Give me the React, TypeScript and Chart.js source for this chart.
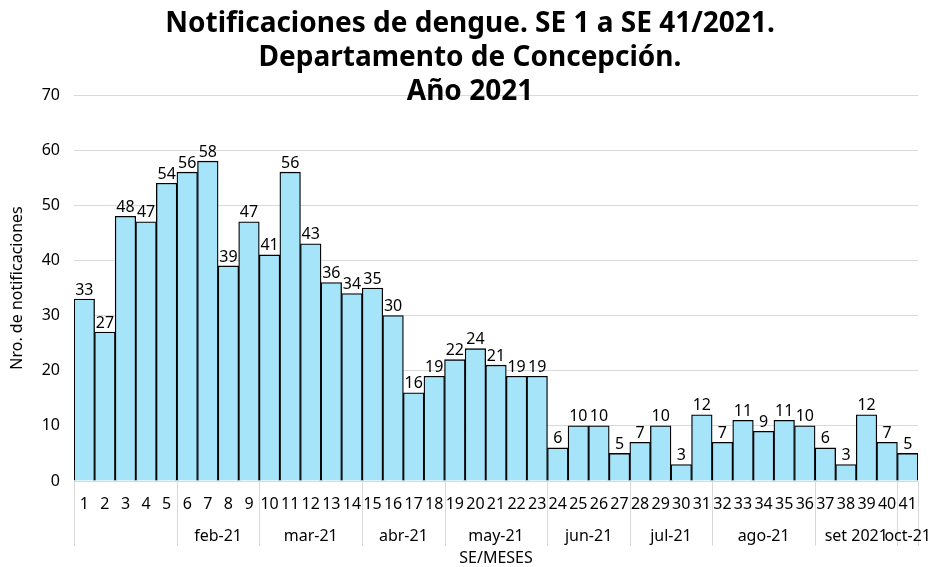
import React, { useEffect, useRef } from "react";
import { Chart, registerables } from "chart.js";

Chart.register(...registerables);

const weeks: string[] = Array.from({ length: 41 }, (_, i) => String(i + 1));
const values: number[] = [33, 27, 48, 47, 54, 56, 58, 39, 47, 41, 56, 43, 36, 34, 35, 30, 16, 19, 22, 24, 21, 19, 19, 6, 10, 10, 5, 7, 10, 3, 12, 7, 11, 9, 11, 10, 6, 3, 12, 7, 5];
const monthLabels: string[] = ["", "feb-21", "mar-21", "abr-21", "may-21", "jun-21", "jul-21", "ago-21", "set 2021", "oct-21"];
const monthStartWeek: number[] = [1, 6, 10, 15, 19, 24, 28, 32, 37, 41];
const titleLines: string[] = ["Notificaciones de dengue. SE 1 a SE 41/2021.", "Departamento de Concepción.", "Año 2021"];
const yTitle = "Nro. de notificaciones";
const xTitle = "SE/MESES";

const FONT = "'Noto Sans', 'Open Sans', sans-serif";
const FS = 16;

export default function App() {
  const ref = useRef<HTMLCanvasElement | null>(null);
  useEffect(() => {
    document.body.style.margin = "0";
    const canvas = ref.current;
    if (!canvas) return;

    const overlay = {
      id: "overlay",
      afterDatasetsDraw(chart: any) {
        const ctx = chart.ctx;
        const meta = chart.getDatasetMeta(0);
        ctx.save();
        ctx.fillStyle = "#000";
        ctx.font = `${FS}px ${FONT}`;
        ctx.textAlign = "center";
        ctx.textBaseline = "bottom";
        meta.data.forEach((el: any, i: number) => {
          ctx.fillText(String(values[i]), el.x, el.y - 1);
        });
        ctx.restore();
      },
      afterDraw(chart: any) {
        const ctx = chart.ctx;
        const xs = chart.scales.x;
        const area = chart.chartArea;
        const step = (area.right - area.left) / weeks.length;
        ctx.save();
        // title
        ctx.fillStyle = "#000";
        ctx.font = `bold 28px ${FONT}`;
        ctx.textAlign = "center";
        ctx.textBaseline = "alphabetic";
        const tcx = 470;
        titleLines.forEach((t, i) => ctx.fillText(t, tcx, 32 + i * 34));
        // week labels
        ctx.textBaseline = "middle";
        ctx.font = `${FS}px ${FONT}`;
        ctx.fillStyle = "#000";
        weeks.forEach((w, i) => {
          ctx.fillText(w, xs.getPixelForValue(i), 504);
        });
        // separators and month labels
        ctx.strokeStyle = "#d9d9d9";
        ctx.lineWidth = 1;
        const boundaries: number[] = monthStartWeek.map((w) => xs.getPixelForValue(w - 1) - step / 2);
        boundaries.push(xs.getPixelForValue(weeks.length - 1) + step / 2);
        boundaries.forEach((bx) => {
          const px = Math.round(bx) + 0.5;
          ctx.beginPath();
          ctx.moveTo(px, area.bottom);
          ctx.lineTo(px, 546);
          ctx.stroke();
        });
        monthLabels.forEach((m, i) => {
          if (!m) return;
          const cx = (boundaries[i] + boundaries[i + 1]) / 2;
          ctx.fillText(m, cx, 536);
        });
        ctx.fillText(xTitle, (area.left + area.right) / 2, 558);
        ctx.restore();
      },
    };

    const chart = new Chart(canvas, {
      type: "bar",
      data: {
        labels: weeks,
        datasets: [
          {
            data: values,
            backgroundColor: "#A6E4FA",
            borderColor: "#000",
            borderWidth: 1.3,
            categoryPercentage: 1,
            barPercentage: 1,
          },
        ],
      },
      options: {
        responsive: false,
        animation: false,
        layout: { padding: { top: 95, right: 13, left: 0, bottom: 0 } },
        plugins: { legend: { display: false }, tooltip: { enabled: false }, title: { display: false } },
        scales: {
          x: {
            ticks: { display: false },
            grid: { display: false },
            border: { display: false },
            afterFit: (s: any) => {
              s.height = 86;
            },
          },
          y: {
            min: 0,
            max: 70,
            ticks: { stepSize: 10, padding: 14, color: "#000", font: { family: FONT, size: FS } },
            grid: { color: "#d9d9d9", drawTicks: false },
            border: { display: false },
            title: { display: true, text: yTitle, color: "#000", font: { family: FONT, size: FS }, padding: { top: 8, bottom: 0 } },
            afterFit: (s: any) => {
              s.width = 74;
            },
          },
        },
      },
      plugins: [overlay],
    });
    return () => chart.destroy();
  }, []);
  return (
    <div style={{ width: 931, height: 567 }}>
      <canvas ref={ref} width={931} height={567} />
    </div>
  );
}
